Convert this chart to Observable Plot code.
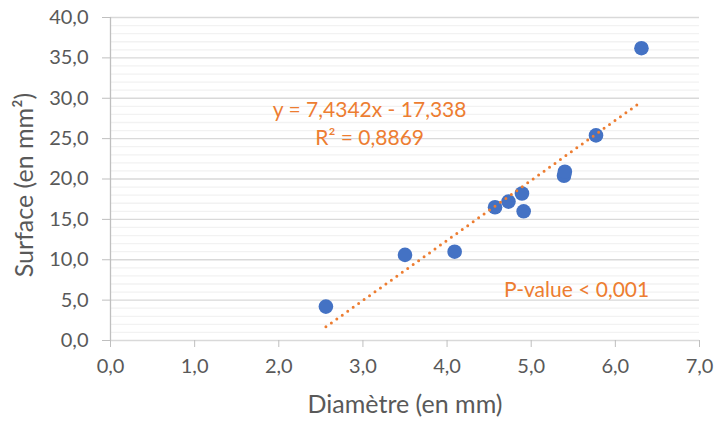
<!DOCTYPE html>
<html>
<head>
<meta charset="utf-8">
<script src="https://cdn.jsdelivr.net/npm/d3@7"></script>
<script src="https://cdn.jsdelivr.net/npm/@observablehq/plot@0.6"></script>
<style>
  html, body { margin: 0; padding: 0; background: #fff; }
  #chart svg { display: block; }
</style>
</head>
<body>
<div id="chart"></div>
<script>
// Data
const diametre = [2.56, 3.50, 4.09, 4.57, 4.73, 4.89, 4.91, 5.39, 5.40, 5.77, 6.31];
const surface  = [4.2, 10.6, 11.0, 16.5, 17.2, 18.2, 16.0, 20.4, 20.9, 25.4, 36.2];
const slope = 7.4342;
const intercept = -17.338;
const equationLabel = "y = 7,4342x - 17,338";
const r2Label = "R² = 0,8869";
const pLabel = "P-value < 0,001";
const xTicks = [0, 1, 2, 3, 4, 5, 6, 7];
const yTicks = [0, 5, 10, 15, 20, 25, 30, 35, 40];
const yMinor = d3.range(1, 40).filter(v => v % 5 !== 0);

const points = diametre.map((d, i) => ({x: d, y: surface[i]}));
const xMin = d3.min(diametre), xMax = d3.max(diametre);
const trend = [xMin, xMax].map(x => ({x, y: slope * x + intercept}));
const fmt = d => d.toFixed(1).replace(".", ",");

const font = "Lato, 'Open Sans', sans-serif";
const orange = "#ED7D31";
const gray = "#595959";

const chart = Plot.plot({
  width: 716,
  height: 423,
  marginLeft: 110,
  marginRight: 17,
  marginTop: 17,
  marginBottom: 83,
  style: {fontFamily: font, fontSize: "20px", color: gray, background: "#fff"},
  x: {domain: [0, 7], ticks: xTicks, tickFormat: fmt, label: null},
  y: {domain: [0, 40], ticks: yTicks, tickFormat: fmt, label: null},
  marks: [
    Plot.ruleY(yMinor, {stroke: "#F2F2F2", strokeWidth: 1.3}),
    Plot.ruleY(yTicks, {stroke: "#D9D9D9", strokeWidth: 1.3}),
    Plot.ruleX([0], {stroke: "#BFBFBF", strokeWidth: 1.3}),
    Plot.axisX({ticks: xTicks, tickFormat: fmt, tickSize: 7, tickPadding: 11, stroke: "#BFBFBF", strokeOpacity: 1, fontSize: 20, fill: gray, label: null}),
    Plot.axisY({ticks: yTicks, tickFormat: fmt, tickSize: 8, tickPadding: 14, stroke: "#BFBFBF", strokeOpacity: 1, fontSize: 20, fill: gray, label: null}),
    Plot.dot(points, {x: "x", y: "y", r: 7.3, fill: "#4472C4", stroke: "none"}),
    Plot.line(trend, {x: "x", y: "y", stroke: orange, strokeWidth: 3, strokeDasharray: "0,6.7", strokeLinecap: "round"}),
    Plot.text([equationLabel], {x: 3.08, y: 28.5, text: d => d, fill: orange, fontSize: 21, textAnchor: "middle"}),
    Plot.text([r2Label], {x: 3.08, y: 25.0, text: d => d, fill: orange, fontSize: 21, textAnchor: "middle"}),
    Plot.text([pLabel], {x: 5.54, y: 6.2, text: d => d, fill: orange, fontSize: 21, textAnchor: "middle"}),
    Plot.text(["Diamètre (en mm)"], {frameAnchor: "bottom", dy: 72, text: d => d, fill: gray, fontSize: 25, textAnchor: "middle"}),
    Plot.text(["Surface (en mm²)"], {frameAnchor: "left", dx: -86, dy: 6, rotate: -90, text: d => d, fill: gray, fontSize: 25, textAnchor: "middle"})
  ]
});
document.getElementById("chart").appendChild(chart);
</script>
</body>
</html>
